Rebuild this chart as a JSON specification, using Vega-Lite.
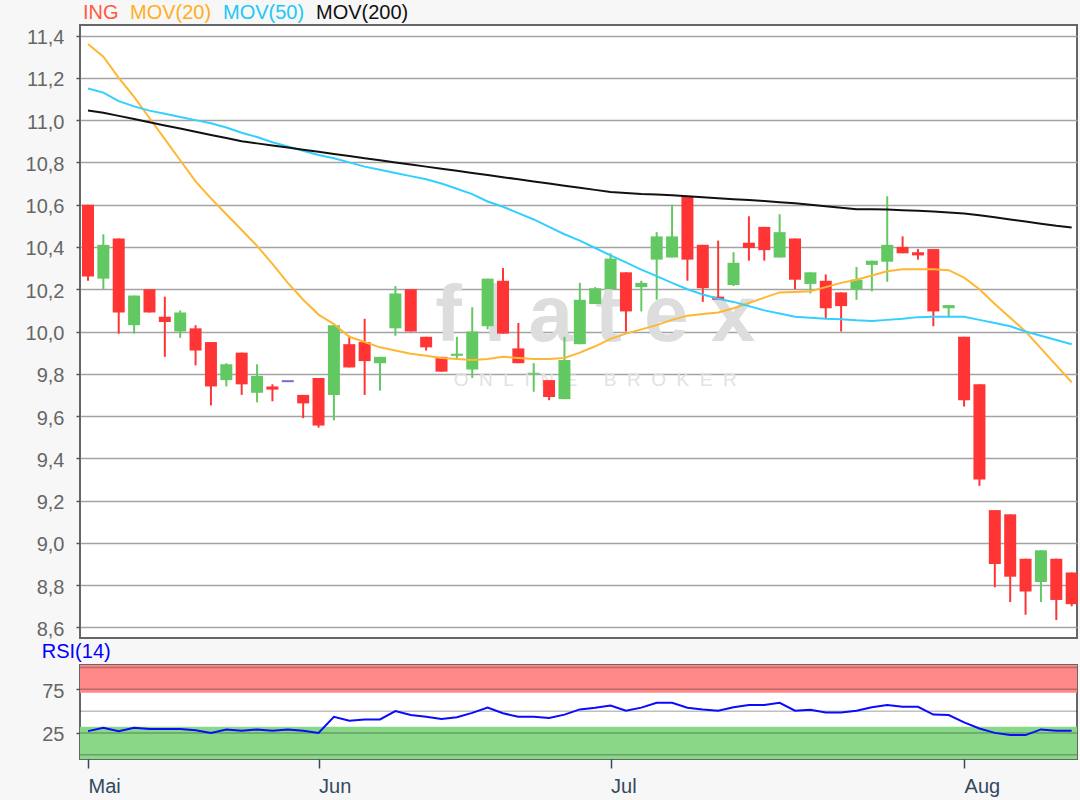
{
  "$schema": "https://vega.github.io/schema/vega-lite/v6.json",
  "background": "#f7f7f7",
  "padding": {"left": 24, "top": 3, "right": 3, "bottom": 3},
  "spacing": 0,
  "datasets": {
    "ohlc": [
      {"date":"2019-05-13","open":10.6,"high":10.6,"low":10.24,"close":10.26,"MOV(20)":11.36,"MOV(50)":11.15,"MOV(200)":11.045,"rsi":27},
      {"date":"2019-05-14","open":10.25,"high":10.46,"low":10.2,"close":10.41,"MOV(20)":11.3,"MOV(50)":11.13,"MOV(200)":11.035,"rsi":31},
      {"date":"2019-05-15","open":10.44,"high":10.44,"low":9.99,"close":10.09,"MOV(20)":11.2,"MOV(50)":11.09,"MOV(200)":11.02,"rsi":27},
      {"date":"2019-05-16","open":10.03,"high":10.17,"low":9.99,"close":10.17,"MOV(20)":11.11,"MOV(50)":11.065,"MOV(200)":11.005,"rsi":31},
      {"date":"2019-05-17","open":10.2,"high":10.2,"low":10.09,"close":10.09,"MOV(20)":11.01,"MOV(50)":11.045,"MOV(200)":10.99,"rsi":29.5},
      {"date":"2019-05-20","open":10.07,"high":10.165,"low":9.88,"close":10.045,"MOV(20)":10.91,"MOV(50)":11.03,"MOV(200)":10.975,"rsi":29.5},
      {"date":"2019-05-21","open":10.0,"high":10.1,"low":9.97,"close":10.09,"MOV(20)":10.81,"MOV(50)":11.015,"MOV(200)":10.96,"rsi":29.5},
      {"date":"2019-05-22","open":10.015,"high":10.03,"low":9.84,"close":9.91,"MOV(20)":10.71,"MOV(50)":11.0,"MOV(200)":10.945,"rsi":28},
      {"date":"2019-05-23","open":9.95,"high":9.95,"low":9.65,"close":9.74,"MOV(20)":10.63,"MOV(50)":10.985,"MOV(200)":10.93,"rsi":25},
      {"date":"2019-05-24","open":9.77,"high":9.85,"low":9.74,"close":9.845,"MOV(20)":10.555,"MOV(50)":10.965,"MOV(200)":10.915,"rsi":29},
      {"date":"2019-05-27","open":9.9,"high":9.9,"low":9.7,"close":9.75,"MOV(20)":10.48,"MOV(50)":10.94,"MOV(200)":10.9,"rsi":27.5},
      {"date":"2019-05-28","open":9.71,"high":9.845,"low":9.665,"close":9.79,"MOV(20)":10.405,"MOV(50)":10.92,"MOV(200)":10.89,"rsi":29},
      {"date":"2019-05-29","open":9.74,"high":9.75,"low":9.67,"close":9.725,"MOV(20)":10.32,"MOV(50)":10.895,"MOV(200)":10.88,"rsi":27.5},
      {"date":"2019-05-30","open":9.765,"high":9.765,"low":9.765,"close":9.765,"MOV(20)":10.23,"MOV(50)":10.875,"MOV(200)":10.87,"rsi":29},
      {"date":"2019-05-31","open":9.7,"high":9.7,"low":9.59,"close":9.66,"MOV(20)":10.15,"MOV(50)":10.855,"MOV(200)":10.86,"rsi":27.5},
      {"date":"2019-06-03","open":9.78,"high":9.78,"low":9.545,"close":9.555,"MOV(20)":10.08,"MOV(50)":10.835,"MOV(200)":10.85,"rsi":25},
      {"date":"2019-06-04","open":9.7,"high":10.03,"low":9.58,"close":10.03,"MOV(20)":10.035,"MOV(50)":10.82,"MOV(200)":10.84,"rsi":43.5},
      {"date":"2019-06-05","open":9.94,"high":9.98,"low":9.83,"close":9.83,"MOV(20)":9.975,"MOV(50)":10.8,"MOV(200)":10.83,"rsi":39},
      {"date":"2019-06-06","open":9.95,"high":10.06,"low":9.7,"close":9.86,"MOV(20)":9.95,"MOV(50)":10.78,"MOV(200)":10.82,"rsi":40.5},
      {"date":"2019-06-07","open":9.85,"high":9.88,"low":9.72,"close":9.88,"MOV(20)":9.925,"MOV(50)":10.765,"MOV(200)":10.81,"rsi":40.5},
      {"date":"2019-06-11","open":10.015,"high":10.215,"low":9.98,"close":10.18,"MOV(20)":9.91,"MOV(50)":10.75,"MOV(200)":10.8,"rsi":50},
      {"date":"2019-06-12","open":10.2,"high":10.2,"low":10.0,"close":10.0,"MOV(20)":9.895,"MOV(50)":10.735,"MOV(200)":10.79,"rsi":45.5},
      {"date":"2019-06-13","open":9.975,"high":9.975,"low":9.91,"close":9.925,"MOV(20)":9.885,"MOV(50)":10.72,"MOV(200)":10.78,"rsi":43.5},
      {"date":"2019-06-14","open":9.88,"high":9.88,"low":9.81,"close":9.81,"MOV(20)":9.875,"MOV(50)":10.7,"MOV(200)":10.77,"rsi":41},
      {"date":"2019-06-17","open":9.885,"high":9.975,"low":9.87,"close":9.895,"MOV(20)":9.87,"MOV(50)":10.675,"MOV(200)":10.76,"rsi":43},
      {"date":"2019-06-18","open":9.82,"high":10.115,"low":9.78,"close":10.0,"MOV(20)":9.865,"MOV(50)":10.65,"MOV(200)":10.75,"rsi":48},
      {"date":"2019-06-19","open":10.025,"high":10.25,"low":10.01,"close":10.25,"MOV(20)":9.87,"MOV(50)":10.615,"MOV(200)":10.74,"rsi":54},
      {"date":"2019-06-20","open":10.24,"high":10.3,"low":9.99,"close":9.99,"MOV(20)":9.88,"MOV(50)":10.59,"MOV(200)":10.73,"rsi":47.5},
      {"date":"2019-06-21","open":9.92,"high":10.04,"low":9.85,"close":9.85,"MOV(20)":9.875,"MOV(50)":10.56,"MOV(200)":10.72,"rsi":43.5},
      {"date":"2019-06-24","open":9.8,"high":9.85,"low":9.715,"close":9.805,"MOV(20)":9.87,"MOV(50)":10.53,"MOV(200)":10.71,"rsi":43.5},
      {"date":"2019-06-25","open":9.77,"high":9.77,"low":9.675,"close":9.69,"MOV(20)":9.87,"MOV(50)":10.495,"MOV(200)":10.7,"rsi":42},
      {"date":"2019-06-26","open":9.68,"high":9.975,"low":9.68,"close":9.865,"MOV(20)":9.875,"MOV(50)":10.46,"MOV(200)":10.69,"rsi":46},
      {"date":"2019-06-27","open":9.94,"high":10.23,"low":9.94,"close":10.15,"MOV(20)":9.9,"MOV(50)":10.43,"MOV(200)":10.68,"rsi":52},
      {"date":"2019-06-28","open":10.13,"high":10.21,"low":10.13,"close":10.205,"MOV(20)":9.93,"MOV(50)":10.395,"MOV(200)":10.67,"rsi":54},
      {"date":"2019-07-01","open":10.2,"high":10.37,"low":10.2,"close":10.345,"MOV(20)":9.965,"MOV(50)":10.36,"MOV(200)":10.66,"rsi":56.5},
      {"date":"2019-07-02","open":10.28,"high":10.28,"low":10.0,"close":10.095,"MOV(20)":9.99,"MOV(50)":10.327,"MOV(200)":10.655,"rsi":50.5},
      {"date":"2019-07-03","open":10.21,"high":10.24,"low":10.095,"close":10.23,"MOV(20)":10.01,"MOV(50)":10.293,"MOV(200)":10.65,"rsi":54},
      {"date":"2019-07-04","open":10.34,"high":10.47,"low":10.15,"close":10.45,"MOV(20)":10.03,"MOV(50)":10.262,"MOV(200)":10.648,"rsi":59.5},
      {"date":"2019-07-05","open":10.35,"high":10.6,"low":10.35,"close":10.45,"MOV(20)":10.055,"MOV(50)":10.23,"MOV(200)":10.645,"rsi":59.5},
      {"date":"2019-07-08","open":10.64,"high":10.64,"low":10.24,"close":10.34,"MOV(20)":10.075,"MOV(50)":10.2,"MOV(200)":10.64,"rsi":54},
      {"date":"2019-07-09","open":10.41,"high":10.41,"low":10.14,"close":10.205,"MOV(20)":10.083,"MOV(50)":10.175,"MOV(200)":10.635,"rsi":52},
      {"date":"2019-07-10","open":10.165,"high":10.43,"low":10.15,"close":10.15,"MOV(20)":10.09,"MOV(50)":10.155,"MOV(200)":10.63,"rsi":50.5},
      {"date":"2019-07-11","open":10.22,"high":10.375,"low":10.215,"close":10.325,"MOV(20)":10.11,"MOV(50)":10.14,"MOV(200)":10.626,"rsi":54.5},
      {"date":"2019-07-12","open":10.42,"high":10.545,"low":10.335,"close":10.395,"MOV(20)":10.135,"MOV(50)":10.12,"MOV(200)":10.622,"rsi":57},
      {"date":"2019-07-15","open":10.495,"high":10.495,"low":10.335,"close":10.385,"MOV(20)":10.16,"MOV(50)":10.1,"MOV(200)":10.617,"rsi":57},
      {"date":"2019-07-16","open":10.35,"high":10.555,"low":10.35,"close":10.47,"MOV(20)":10.185,"MOV(50)":10.085,"MOV(200)":10.612,"rsi":59.5},
      {"date":"2019-07-17","open":10.44,"high":10.44,"low":10.2,"close":10.245,"MOV(20)":10.187,"MOV(50)":10.07,"MOV(200)":10.607,"rsi":50.5},
      {"date":"2019-07-18","open":10.225,"high":10.28,"low":10.18,"close":10.28,"MOV(20)":10.19,"MOV(50)":10.065,"MOV(200)":10.6,"rsi":51.5},
      {"date":"2019-07-19","open":10.24,"high":10.27,"low":10.06,"close":10.11,"MOV(20)":10.21,"MOV(50)":10.06,"MOV(200)":10.593,"rsi":48.5},
      {"date":"2019-07-22","open":10.185,"high":10.185,"low":10.0,"close":10.12,"MOV(20)":10.23,"MOV(50)":10.058,"MOV(200)":10.585,"rsi":48.5},
      {"date":"2019-07-23","open":10.2,"high":10.305,"low":10.15,"close":10.245,"MOV(20)":10.245,"MOV(50)":10.053,"MOV(200)":10.578,"rsi":50.5},
      {"date":"2019-07-24","open":10.315,"high":10.335,"low":10.19,"close":10.335,"MOV(20)":10.265,"MOV(50)":10.05,"MOV(200)":10.578,"rsi":54.5},
      {"date":"2019-07-25","open":10.33,"high":10.64,"low":10.235,"close":10.41,"MOV(20)":10.285,"MOV(50)":10.055,"MOV(200)":10.577,"rsi":57},
      {"date":"2019-07-26","open":10.4,"high":10.45,"low":10.37,"close":10.37,"MOV(20)":10.295,"MOV(50)":10.06,"MOV(200)":10.574,"rsi":55},
      {"date":"2019-07-29","open":10.375,"high":10.39,"low":10.34,"close":10.36,"MOV(20)":10.295,"MOV(50)":10.068,"MOV(200)":10.571,"rsi":55},
      {"date":"2019-07-30","open":10.39,"high":10.39,"low":10.025,"close":10.095,"MOV(20)":10.295,"MOV(50)":10.07,"MOV(200)":10.568,"rsi":46},
      {"date":"2019-07-31","open":10.11,"high":10.125,"low":10.07,"close":10.125,"MOV(20)":10.29,"MOV(50)":10.07,"MOV(200)":10.563,"rsi":45.5},
      {"date":"2019-08-01","open":9.975,"high":9.975,"low":9.645,"close":9.675,"MOV(20)":10.255,"MOV(50)":10.07,"MOV(200)":10.558,"rsi":37},
      {"date":"2019-08-02","open":9.75,"high":9.75,"low":9.27,"close":9.3,"MOV(20)":10.2,"MOV(50)":10.055,"MOV(200)":10.55,"rsi":30},
      {"date":"2019-08-05","open":9.155,"high":9.155,"low":8.79,"close":8.9,"MOV(20)":10.13,"MOV(50)":10.04,"MOV(200)":10.54,"rsi":25},
      {"date":"2019-08-06","open":9.135,"high":9.135,"low":8.72,"close":8.84,"MOV(20)":10.065,"MOV(50)":10.025,"MOV(200)":10.53,"rsi":22.5},
      {"date":"2019-08-07","open":8.925,"high":8.925,"low":8.66,"close":8.77,"MOV(20)":10.0,"MOV(50)":10.0,"MOV(200)":10.52,"rsi":22.5},
      {"date":"2019-08-08","open":8.815,"high":8.965,"low":8.72,"close":8.965,"MOV(20)":9.92,"MOV(50)":9.98,"MOV(200)":10.51,"rsi":29},
      {"date":"2019-08-09","open":8.925,"high":8.925,"low":8.635,"close":8.73,"MOV(20)":9.84,"MOV(50)":9.96,"MOV(200)":10.5,"rsi":27.5},
      {"date":"2019-08-12","open":8.86,"high":8.86,"low":8.7,"close":8.71,"MOV(20)":9.76,"MOV(50)":9.94,"MOV(200)":10.492,"rsi":27.5}
    ],
    "bands": [
      {"zone": "high", "lo": 71, "hi": 103},
      {"zone": "low", "lo": -5, "hi": 32}
    ],
    "levels": [
      {"level": 0}, {"level": 25}, {"level": 50}, {"level": 75}, {"level": 100}
    ]
  },
  "vconcat": [
    {
      "width": 997,
      "height": 613,
      "data": {"name": "ohlc"},
      "encoding": {
        "x": {"field": "date", "type": "ordinal", "scale": {"type": "point", "padding": 0.433, "align": 0.6}, "axis": null}
      },
      "layer": [
        {
          "data": {"values": [{}]},
          "mark": {"type": "text", "fontSize": 80, "fontWeight": "bold", "color": "#dddddd", "align": "center", "baseline": "alphabetic"},
          "encoding": {
            "x": {"datum": "2019-06-28"},
            "y": {"datum": 9.955, "type": "quantitative", "scale": {"domain": [8.55, 11.45], "zero": false, "nice": false},
              "title": null,
              "axis": {
                "values": [8.6, 8.8, 9.0, 9.2, 9.4, 9.6, 9.8, 10.0, 10.2, 10.4, 10.6, 10.8, 11.0, 11.2, 11.4],
                "labelExpr": "replace(format(datum.value, '.1f'), '.', ',')",
                "grid": true, "gridColor": "#a3a3a3", "gridWidth": 1.5,
                "tickSize": 4, "tickColor": "#555555", "tickWidth": 1.5,
                "labelPadding": 12, "labelColor": "#666666", "labelFontSize": 20, "labelOffset": 2
              }
            },
            "text": {"value": "f l a t e x"}
          }
        },
        {
          "data": {"values": [{}]},
          "mark": {"type": "text", "fontSize": 19, "color": "#e2e2e2", "align": "center", "baseline": "alphabetic"},
          "encoding": {
            "x": {"datum": "2019-06-28"},
            "y": {"datum": 9.742, "type": "quantitative", "title": null},
            "text": {"value": "O\u00a0\u00a0N\u00a0\u00a0L\u00a0\u00a0I\u00a0\u00a0N\u00a0\u00a0E\u00a0\u00a0\u00a0\u00a0\u00a0B\u00a0\u00a0R\u00a0\u00a0O\u00a0\u00a0K\u00a0\u00a0E\u00a0\u00a0R"}
          }
        },
        {
          "mark": {"type": "rule", "strokeWidth": 2},
          "encoding": {
            "y": {"field": "low", "type": "quantitative", "title": null},
            "y2": {"field": "high"},
            "color": {"condition": {"test": "datum.close > datum.open", "value": "#62c962"}, "value": "#ff3535"}
          }
        },
        {
          "mark": {"type": "bar", "width": 12},
          "encoding": {
            "y": {"field": "open", "type": "quantitative", "title": null},
            "y2": {"field": "close"},
            "color": {"condition": {"test": "datum.close > datum.open", "value": "#62c962"}, "value": "#ff3535"}
          }
        },
        {
          "transform": [{"filter": "datum.open == datum.close"}],
          "mark": {"type": "tick", "color": "#3d2bd1", "thickness": 2, "size": 12},
          "encoding": {
            "y": {"field": "close", "type": "quantitative", "title": null}
          }
        },
        {
          "transform": [{"fold": ["MOV(20)", "MOV(50)", "MOV(200)"], "as": ["series", "value"]}],
          "mark": {"type": "line", "strokeWidth": 2},
          "encoding": {
            "y": {"field": "value", "type": "quantitative", "title": null},
            "color": {
              "field": "series", "type": "nominal",
              "scale": {"domain": ["ING", "MOV(20)", "MOV(50)", "MOV(200)"], "range": ["#ff5a3c", "#ffb733", "#33cfff", "#111111"]},
              "legend": {
                "orient": "none", "legendX": 3, "legendY": -22, "direction": "horizontal",
                "title": null, "symbolSize": 0, "symbolStrokeWidth": 0, "symbolOpacity": 0,
                "labelFontSize": 20, "labelOffset": -20, "columnPadding": 11, "padding": 0, "labelLimit": 200,
                "labelColor": {"expr": "(datum.label == 'ING' || datum.value == 'ING') ? '#ff5a3c' : (datum.label == 'MOV(20)' || datum.value == 'MOV(20)') ? '#ffae1f' : (datum.label == 'MOV(50)' || datum.value == 'MOV(50)') ? '#22c8f5' : '#111111'"}
              }
            }
          }
        }
      ]
    },
    {
      "width": 997,
      "height": 94,
      "title": {"text": "RSI(14)", "anchor": "start", "color": "#0000ff", "fontSize": 20, "fontWeight": "normal", "offset": 3},
      "layer": [
        {
          "data": {"name": "bands"},
          "mark": {"type": "rect"},
          "encoding": {
            "y": {"field": "lo", "type": "quantitative", "scale": {"domain": [-5, 103], "zero": false, "nice": false},
              "title": null,
              "axis": {"values": [25, 75], "grid": false, "tickSize": 4, "tickColor": "#555555", "tickWidth": 1.5,
                "labelPadding": 12, "labelColor": "#666666", "labelFontSize": 20, "labelOffset": 2}
            },
            "y2": {"field": "hi"},
            "color": {"condition": {"test": "datum.zone == 'high'", "value": "#ff8888"}, "value": "#88d888"}
          }
        },
        {
          "data": {"name": "levels"},
          "mark": {"type": "rule", "color": "#000000", "opacity": 0.25, "strokeWidth": 1.5},
          "encoding": {
            "y": {"field": "level", "type": "quantitative", "title": null}
          }
        },
        {
          "data": {"name": "ohlc"},
          "mark": {"type": "line", "color": "#0a0aff", "strokeWidth": 2},
          "encoding": {
            "x": {"field": "date", "type": "ordinal", "scale": {"type": "point", "padding": 0.433, "align": 0.6},
              "title": null,
              "axis": {
                "values": ["2019-05-13", "2019-06-03", "2019-07-01", "2019-08-01"],
                "labelExpr": "datum.value == '2019-05-13' ? 'Mai' : datum.value == '2019-06-03' ? 'Jun' : datum.value == '2019-07-01' ? 'Jul' : 'Aug'",
                "labelAngle": 0, "labelAlign": "left", "labelColor": "#34495e", "labelFontSize": 20, "labelPadding": 8,
                "tickSize": 9, "tickColor": "#34495e", "tickWidth": 1.5, "grid": false
              }
            },
            "y": {"field": "rsi", "type": "quantitative", "title": null}
          }
        }
      ]
    }
  ],
  "config": {
    "font": "Liberation Sans",
    "view": {"fill": "#ffffff", "stroke": "#666666", "strokeWidth": 2},
    "axis": {"labelFont": "Liberation Sans", "domain": false},
    "legend": {"labelFont": "Liberation Sans"},
    "title": {"font": "Liberation Sans"}
  }
}
